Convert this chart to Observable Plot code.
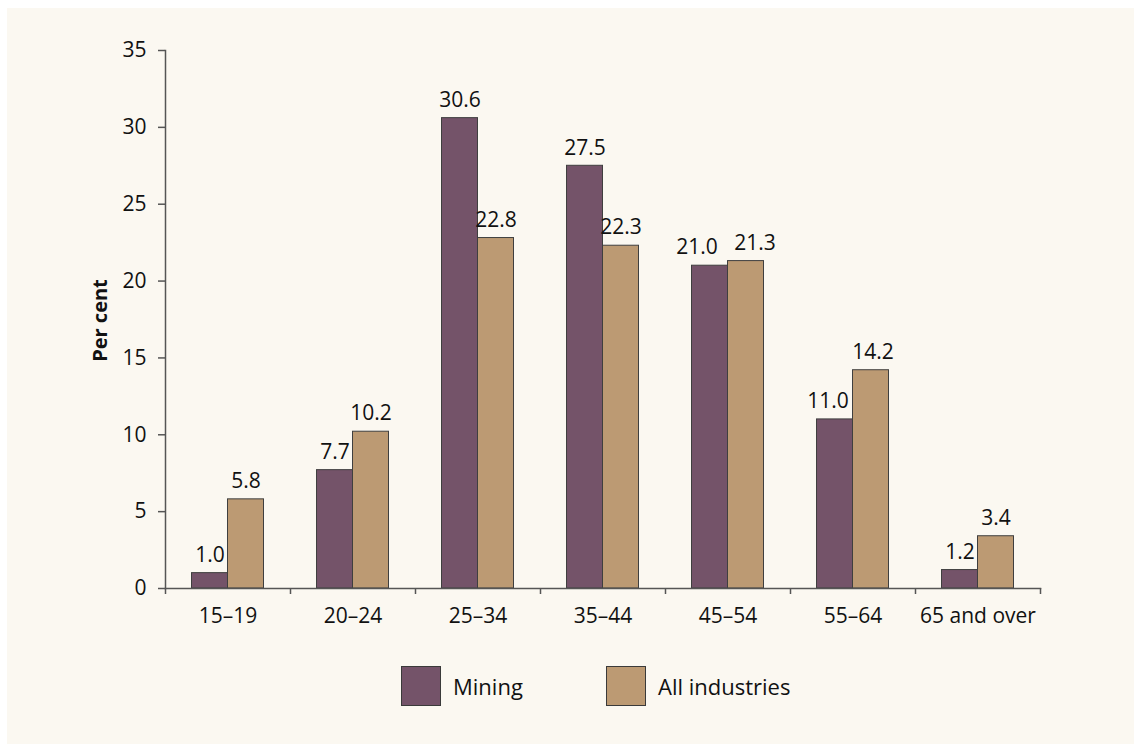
<!DOCTYPE html>
<html>
<head>
<meta charset="utf-8">
<script src="https://cdn.jsdelivr.net/npm/d3@7"></script>
<script src="https://cdn.jsdelivr.net/npm/@observablehq/plot@0.6"></script>
<style>
  html, body { margin: 0; padding: 0; background: #ffffff; }
  #panel { position: absolute; left: 7px; top: 8px; width: 1127px; height: 736px; background: #fbf8f1; }
  #chart { position: absolute; left: 0; top: 0; }
  #legend { position: absolute; top: 666px; left: 0; width: 1134px; height: 40px;
            font-family: "Open Sans", Arial, sans-serif; font-size: 22px; color: #111111; }
  .item { position: absolute; top: 0; display: flex; align-items: center; height: 40px; }
  .sw { width: 38px; height: 38px; border: 1px solid #3a3a3a; margin-right: 12px; box-sizing: content-box; }
</style>
</head>
<body>
<div id="panel"></div>
<div id="chart"></div>
<div id="legend"></div>
<script>
const categories = ["15–19", "20–24", "25–34", "35–44", "45–54", "55–64", "65 and over"];
const mining = [1.0, 7.7, 30.6, 27.5, 21.0, 11.0, 1.2];
const allIndustries = [5.8, 10.2, 22.8, 22.3, 21.3, 14.2, 3.4];
const seriesNames = ["Mining", "All industries"];
const seriesColors = ["#745369", "#bc9a73"];
const yTicks = [0, 5, 10, 15, 20, 25, 30, 35];
const yLabel = "Per cent";

const data = categories.map((c, i) => ({category: c, mining: mining[i], all: allIndustries[i]}));
const axisColor = "#555555";
const textColor = "#111111";
const band = (1134 - 94 - 165) / categories.length;
// small horizontal nudges of value labels to avoid collisions (pixels)
const nudgeMining = {"45–54": -13, "55–64": -7};
const nudgeAll = {"45–54": 9, "55–64": 2};

const chart = Plot.plot({
  width: 1134,
  height: 650,
  marginLeft: 165,
  marginRight: 94,
  marginTop: 50,
  marginBottom: 62,
  x: {domain: categories, padding: 0},
  y: {domain: [0, 35]},
  style: {background: "transparent", fontFamily: "'Open Sans', Arial, sans-serif", fontSize: "21px", color: textColor},
  marks: [
    Plot.barY(data, {x: "category", y: "mining", fill: seriesColors[0], stroke: "#3f3f3f", strokeWidth: 1, insetLeft: 26.5, insetRight: 62.5}),
    Plot.barY(data, {x: "category", y: "all", fill: seriesColors[1], stroke: "#3f3f3f", strokeWidth: 1, insetLeft: 62.5, insetRight: 26.5}),
    ...categories.map(c => Plot.text(data.filter(d => d.category === c), {x: "category", y: "mining", text: d => d.mining.toFixed(1), dx: -18 + (nudgeMining[c] || 0), dy: -18, lineAnchor: "middle", fontSize: 21, fill: textColor})),
    ...categories.map(c => Plot.text(data.filter(d => d.category === c), {x: "category", y: "all", text: d => d.all.toFixed(1), dx: 18 + (nudgeAll[c] || 0), dy: -18, lineAnchor: "middle", fontSize: 21, fill: textColor})),
    Plot.frame({anchor: "left", stroke: axisColor, strokeWidth: 1.5}),
    Plot.frame({anchor: "bottom", stroke: axisColor, strokeWidth: 1.5}),
    Plot.axisY({ticks: yTicks, tickSize: 7, tickPadding: 12, label: null, stroke: axisColor, strokeWidth: 1.5}),
    Plot.axisX({tickSize: 0, tickPadding: 20, label: null}),
    Plot.axisX({tickSize: 6, tickFormat: () => "", label: null, dx: -band / 2, stroke: axisColor, strokeWidth: 1.5}),
    Plot.axisX({ticks: [categories[categories.length - 1]], tickSize: 6, tickFormat: () => "", label: null, dx: band / 2, stroke: axisColor, strokeWidth: 1.5}),
    Plot.text([yLabel], {frameAnchor: "left", text: d => d, rotate: -90, textAnchor: "middle", dx: -65, dy: 1, fontWeight: "bold", fontSize: 20, fill: textColor})
  ]
});
document.getElementById("chart").appendChild(chart);

const legend = document.getElementById("legend");
const lefts = [401, 606];
seriesNames.forEach((name, i) => {
  const item = document.createElement("div");
  item.className = "item";
  item.style.left = lefts[i] + "px";
  const sw = document.createElement("div");
  sw.className = "sw";
  sw.style.background = seriesColors[i];
  const label = document.createElement("span");
  label.textContent = name;
  item.appendChild(sw);
  item.appendChild(label);
  legend.appendChild(item);
});
</script>
</body>
</html>
